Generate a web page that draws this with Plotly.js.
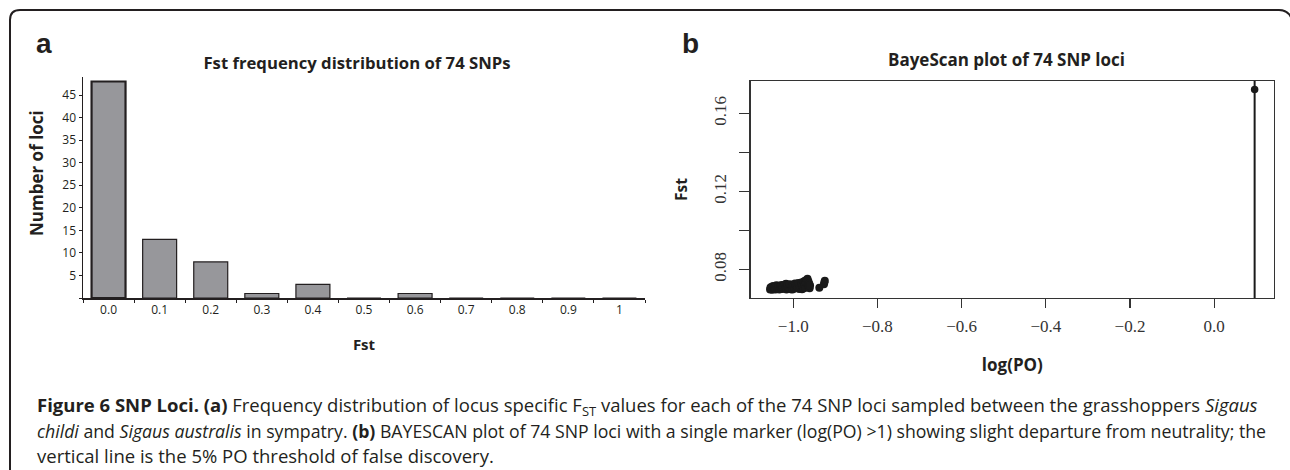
<!DOCTYPE html>
<html><head><meta charset="utf-8">
<script src="https://cdn.plot.ly/plotly-3.0.1.min.js"></script>
<style>html,body{margin:0;padding:0;background:#fff;}#chart{width:1290px;height:470px;}</style>
</head><body><div id="chart"></div>
<script>
// ---- Panel a: Fst frequency distribution ----
const fstBins = ['0.0','0.1','0.2','0.3','0.4','0.5','0.6','0.7','0.8','0.9','1'];
const lociCounts = [48, 13, 8, 1, 3, 0, 1, 0, 0, 0, 0];
const countTickVals = [5, 10, 15, 20, 25, 30, 35, 40, 45];
const countMinorTickVals = [0];

// ---- Panel b: BayeScan plot ----
const logPO = [-1.055,-1.054,-1.053,-1.052,-1.050,-1.048,-1.047,-1.045,-1.044,-1.043,-1.042,-1.040,-1.038,-1.036,-1.035,-1.033,-1.031,-1.030,-1.029,-1.028,-1.026,-1.025,-1.023,-1.021,-1.020,-1.018,-1.017,-1.016,-1.015,-1.013,-1.011,-1.010,-1.008,-1.006,-1.005,-1.003,-1.002,-1.001,-1.000,-0.998,-0.996,-0.995,-0.993,-0.992,-0.991,-0.990,-0.988,-0.986,-0.985,-0.983,-0.981,-0.980,-0.979,-0.978,-0.976,-0.975,-0.974,-0.973,-0.972,-0.971,-0.970,-0.968,-0.966,-0.965,-0.964,-0.963,-0.962,-0.961,-0.960,-0.938,-0.927,-0.926,-0.925];
const fstValues = [0.0697,0.0707,0.0703,0.0710,0.0695,0.0715,0.0700,0.0706,0.0699,0.0712,0.0696,0.0718,0.0702,0.0709,0.0716,0.0697,0.0713,0.0705,0.0711,0.0720,0.0699,0.0710,0.0716,0.0702,0.0722,0.0707,0.0726,0.0697,0.0714,0.0719,0.0703,0.0710,0.0724,0.0698,0.0716,0.0706,0.0696,0.0721,0.0712,0.0700,0.0727,0.0717,0.0705,0.0715,0.0722,0.0711,0.0730,0.0699,0.0718,0.0708,0.0733,0.0724,0.0698,0.0713,0.0702,0.0737,0.0727,0.0716,0.0741,0.0706,0.0731,0.0746,0.0752,0.0720,0.0739,0.0710,0.0728,0.0703,0.0717,0.0705,0.0723,0.0733,0.0742];
const outlierLogPO = [0.096];
const outlierFst = [0.1723];
const thresholdLogPO = 0.096;
const logPOTickVals = [-1.0, -0.8, -0.6, -0.4, -0.2, 0.0];
const fstTickVals = [0.08, 0.12, 0.16];
const fstMinorTickVals = [0.10, 0.14];

// ---- geometry helpers (pixel -> paper) ----
const W = 1290, H = 470;
const M = {l: 83, r: 16, t: 77, b: 172};
const PW = W - M.l - M.r, PH = H - M.t - M.b;
const px = v => (v - M.l) / PW;
const py = v => (H - M.b - v) / PH;

const ink = '#231f20';
const sans = 'Open Sans, Liberation Sans, sans-serif';
const serif = 'Liberation Serif, DejaVu Serif, serif';

const traces = [
  {type: 'bar', x: fstBins, y: lociCounts, xaxis: 'x', yaxis: 'y',
   marker: {color: '#97979b', line: {color: ink, width: lociCounts.map((c, i) => i === 0 ? 2.2 : 1.2)}},
   showlegend: false},
  {type: 'scatter', mode: 'markers', x: logPO, y: fstValues, xaxis: 'x2', yaxis: 'y2',
   marker: {size: 8, color: '#1a1a1a'}, showlegend: false},
  {type: 'scatter', mode: 'markers', x: outlierLogPO, y: outlierFst, xaxis: 'x2', yaxis: 'y2',
   marker: {size: 7.5, color: '#1a1a1a'}, showlegend: false, cliponaxis: false}
];

const borderPts = [[10, 480], [10, 20], [10, 10], [20, 10], [1279, 10], [1289, 10], [1292, 20]];
const bp = borderPts.map(p => [px(p[0]), py(p[1])]);
const borderPath = `M ${bp[0][0]},${bp[0][1]} L ${bp[1][0]},${bp[1][1]} Q ${bp[2][0]},${bp[2][1]} ${bp[3][0]},${bp[3][1]} L ${bp[4][0]},${bp[4][1]} Q ${bp[5][0]},${bp[5][1]} ${bp[6][0]},${bp[6][1]}`;

const capFont = {family: sans, size: 18.5, color: '#231f20'};
const capFont2 = {family: sans, size: 17.7, color: '#231f20'};
const layout = {
  width: W, height: H, margin: M,
  paper_bgcolor: '#fff', plot_bgcolor: 'rgba(0,0,0,0)',
  showlegend: false, bargap: 0.335,
  title: {text: 'Fst frequency distribution of 74 SNPs', xref: 'container', yref: 'container',
    x: 357 / W, y: 1 - 63 / H, xanchor: 'center', yanchor: 'middle', pad: {t: 0, b: 0, l: 0, r: 0},
    font: {family: sans, size: 16.7, weight: 700, color: ink}},
  xaxis: {domain: [0, px(645)], anchor: 'y', type: 'category', range: [-0.5, 10.5],
    tickson: 'boundaries', ticks: 'outside', ticklen: 3, tickwidth: 1, tickcolor: ink,
    showline: true, linecolor: ink, linewidth: 1.5, showgrid: false, zeroline: false,
    tickfont: {family: sans, size: 12, color: ink},
    title: {text: 'Fst', font: {family: sans, size: 15, weight: 700, color: ink}, standoff: 22}},
  yaxis: {domain: [0, 1], anchor: 'x', range: [0, 49], tickvals: countTickVals,
    ticks: 'outside', ticklen: 3, tickwidth: 1, tickcolor: ink,
    minor: {tickmode: 'array', tickvals: countMinorTickVals, ticks: 'outside', ticklen: 3, tickwidth: 1, tickcolor: ink, showgrid: false},
    showline: true, linecolor: ink, linewidth: 1.5, showgrid: false, zeroline: false,
    tickfont: {family: sans, size: 12, color: ink}},
  xaxis2: {domain: [px(750.7), 1], anchor: 'y2', range: [-1.101, 0.142],
    tickvals: logPOTickVals, tickformat: '.1f', ticklabelstandoff: 3,
    ticks: 'outside', ticklen: 9, tickwidth: 1.2, tickcolor: '#333',
    showline: true, mirror: true, linecolor: '#333', linewidth: 1.3, showgrid: false, zeroline: false,
    tickfont: {family: serif, size: 17, color: '#333'},
    title: {text: 'log(PO)', font: {family: sans, size: 17, weight: 700, color: ink}, standoff: 24}},
  yaxis2: {domain: [0, py(81)], anchor: 'x2', range: [0.0653, 0.1766],
    tickvals: fstTickVals, tickangle: -90, tickformat: '.2f', ticklabelstandoff: 7,
    ticks: 'outside', ticklen: 10, tickwidth: 1.2, tickcolor: '#333',
    minor: {tickmode: 'array', tickvals: fstMinorTickVals, ticks: 'outside', ticklen: 10, tickwidth: 1.2, tickcolor: '#333', showgrid: false},
    showline: true, mirror: true, linecolor: '#333', linewidth: 1.3, showgrid: false, zeroline: false,
    tickfont: {family: serif, size: 17, color: '#333'},
    title: {text: 'Fst', font: {family: sans, size: 15.5, weight: 700, color: ink}, standoff: 19}},
  shapes: [
    {type: 'line', xref: 'x2', yref: 'y2 domain', x0: thresholdLogPO, x1: thresholdLogPO, y0: 0, y1: 1,
     line: {color: '#1a1a1a', width: 2}},
    {type: 'path', xref: 'paper', yref: 'paper', path: borderPath, line: {color: ink, width: 2}}
  ],
  annotations: [
    {xref: 'paper', yref: 'paper', x: px(1006), y: py(59), text: 'BayeScan plot of 74 SNP loci',
     showarrow: false, xanchor: 'center', yanchor: 'middle', font: {family: sans, size: 17, weight: 700, color: ink}},
    {xref: 'paper', yref: 'paper', x: px(43.5), y: py(43), text: 'a',
     showarrow: false, xanchor: 'center', yanchor: 'middle', font: {family: 'Liberation Sans, Arial, sans-serif', size: 28, weight: 700, color: ink}},
    {xref: 'paper', yref: 'paper', x: px(690), y: py(43), text: 'b',
     showarrow: false, xanchor: 'center', yanchor: 'middle', font: {family: 'Liberation Sans, Arial, sans-serif', size: 28, weight: 700, color: ink}},
    {xref: 'paper', yref: 'paper', x: px(36), y: py(173), text: 'Number of loci', textangle: -90,
     showarrow: false, xanchor: 'center', yanchor: 'middle', font: {family: sans, size: 17, weight: 700, color: ink}},
    {xref: 'paper', yref: 'paper', x: px(35), y: py(406), xanchor: 'left', yanchor: 'middle', showarrow: false, font: capFont,
     text: '<b>Figure 6 SNP Loci.</b> <b>(a)</b> Frequency distribution of locus specific F<sub>ST</sub> values for each of the 74 SNP loci sampled between the grasshoppers <i>Sigaus</i>'},
    {xref: 'paper', yref: 'paper', x: px(35), y: py(431), xanchor: 'left', yanchor: 'middle', showarrow: false, font: capFont2,
     text: '<i>childi</i> and <i>Sigaus australis</i> in sympatry. <b>(b)</b> BAYESCAN plot of 74 SNP loci with a single marker (log(PO) >1) showing slight departure from neutrality; the'},
    {xref: 'paper', yref: 'paper', x: px(35), y: py(455), xanchor: 'left', yanchor: 'middle', showarrow: false, font: capFont,
     text: 'vertical line is the 5% PO threshold of false discovery.'}
  ]
};

Plotly.newPlot('chart', traces, layout, {displayModeBar: false, staticPlot: true});
</script>
</body></html>
